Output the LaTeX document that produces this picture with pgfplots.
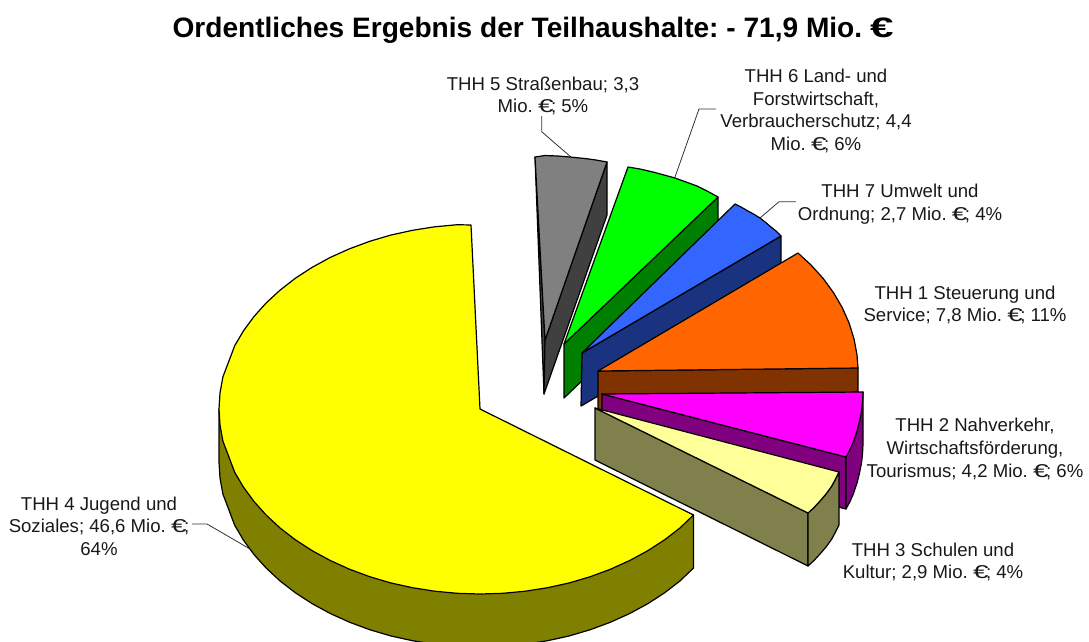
\documentclass[border=0pt]{standalone}
\usepackage{fontspec}
\setmainfont{Liberation Sans}
\usepackage{graphicx}
\usepackage{pgfplots}
\pgfplotsset{compat=1.18}

\definecolor{cGray}{HTML}{808080}\definecolor{dGray}{HTML}{404040}
\definecolor{cGreen}{HTML}{00FF00}\definecolor{dGreen}{HTML}{008000}
\definecolor{cBlue}{HTML}{3366FF}\definecolor{dBlue}{HTML}{1A3380}
\definecolor{cOrange}{HTML}{FF6600}\definecolor{dOrange}{HTML}{803300}
\definecolor{cMagenta}{HTML}{FF00FF}\definecolor{dMagenta}{HTML}{800080}
\definecolor{cPale}{HTML}{FFFF99}\definecolor{dPale}{HTML}{80804D}
\definecolor{cYellow}{HTML}{FFFF00}\definecolor{dYellow}{HTML}{808000}

\pgfplotsset{
  face/.style={fill=#1, draw=black, line width=1.2pt, line join=round, no markers},
  leader/.style={draw=black!80, line width=0.8pt, no markers},
}
\tikzset{lab/.style={align=center, font=\fontsize{18.6}{22.6}\selectfont, text=black!90}}
\newcommand{\eu}{\scalebox{1.5}[1]{€}\kern-2.5pt}

\begin{document}
\frenchspacing
\begin{tikzpicture}
\begin{axis}[
  scale only axis,
  width=1089pt, height=641pt,
  xmin=0, xmax=1089, ymin=0, ymax=641,
  y dir=reverse,
  enlargelimits=false,
  axis line style={draw=none},
  ticks=none,
  clip=true,
]
% leader lines
\addplot[leader] coordinates {(541.7,116) (541.7,131.7) (571.7,157.7)};
\addplot[leader] coordinates {(716,109) (699,109) (675,177)};
\addplot[leader] coordinates {(796,201.7) (779,201.7) (760,218)};
\addplot[leader] coordinates {(192,524) (207,524) (250,549)};

% THH 5 grey
\addplot[face=dGray] coordinates {(535,157) (545,340) (544,394)} -- cycle;
\addplot[face=dGray] coordinates {(607,162) (607,215) (544,394) (545,340)} -- cycle;
\addplot[face=cGray] coordinates {(535,157) (545,155.5) (558,156) (570,157) (585,158.5) (596,160) (607,162) (545,340)} -- cycle;

% THH 6 green
\addplot[face=dGreen] coordinates {(718,197) (718,251) (564,398) (564,344)} -- cycle;
\addplot[face=cGreen] coordinates {(628,167) (640,169) (653,172) (664,175) (675,178) (686,182) (697,186) (708,191.5) (718,197) (564,344)} -- cycle;

% THH 7 blue
\addplot[face=dBlue] coordinates {(781,236) (781,290) (581,406) (582,353)} -- cycle;
\addplot[face=cBlue] coordinates {(735,204) (741,207) (747,210.5) (753.5,214) (760,218) (765.5,222.3) (771,227) (776,231) (781,236) (582,353)} -- cycle;

% THH 1 orange
\addplot[face=dOrange] coordinates {(598,371) (858,368) (858,392) (858,420) (598,425)} -- cycle;
\addplot[face=cOrange] coordinates {(798,253) (811,265) (823.2,278.5) (833.6,292.8) (842.3,307.7) (849.1,323.1) (854,338.8) (857,354.9) (858,368) (598,371)} -- cycle;

% THH 2 magenta
\addplot[face=dMagenta] coordinates {(602,394) (846,457) (846,509) (602,446)} -- cycle;
\addplot[face=dMagenta] coordinates {(863,392) (863,444) (862.5,454) (861.5,463) (859.5,473) (857,483) (853.5,493.5) (850,501.5) (846,509) (846,457) (850,449.5) (853.5,441.5) (857,431) (859.5,421) (861.5,411) (862.5,402)} -- cycle;
\addplot[face=cMagenta] coordinates {(602,394) (863,392) (862.5,402) (861.5,411) (859.5,421) (857,431) (853.5,441.5) (850,449.5) (846,457)} -- cycle;

% THH 3 pale yellow
\addplot[face=dPale] coordinates {(595,408) (808,513) (808,566) (595,460)} -- cycle;
\addplot[face=dPale] coordinates {(808,513) (814,507.5) (820,501) (826,494) (831.6,486.3) (835.5,479) (839,472) (839,525) (835.5,532) (831.6,539.3) (826,547) (820,554) (814,560.5) (808,566)} -- cycle;
\addplot[face=cPale] coordinates {(595,408) (839,472) (835.5,479) (831.6,486.3) (826,494) (820,501) (814,507.5) (808,513)} -- cycle;

% THH 4 yellow
\addplot[face=dYellow] coordinates {
  (219,409) (219,462) (220,478.1) (222.9,494.1) (228.9,509.9) (234.7,525.3) (243.5,540.2) (254,554.5)
  (266.2,568.1) (280.1,581) (295.4,592.8) (312.2,603.7) (330.3,613.5) (349.5,622.2) (369.7,629.7)
  (390.7,635.9) (412.5,640.7) (434.7,644.2) (457.2,646.3) (480,647) (502.8,646.3) (525.3,644.2)
  (547.6,640.7) (569.3,635.9) (590.3,629.7) (610.5,622.2) (629.7,613.5) (647.8,603.7) (664.6,592.8)
  (679.9,581) (693.5,568) (693.5,515)
} -- cycle;
\addplot[face=cYellow] coordinates {
  (471,225) (457.2,224.7) (434.7,226.8) (412.5,230.3) (390.7,235.1) (369.7,241.3) (349.5,248.8)
  (330.3,257.4) (312.2,267.3) (295.4,278.2) (280.1,290.1) (266.2,302.9) (254,316.5) (243.5,330.8)
  (234.7,345.7) (228.9,361.1) (222.9,376.9) (220,392.9) (219,409) (220,425.1) (222.9,441.1)
  (228.9,456.9) (234.7,472.3) (243.5,487.2) (254,501.5) (266.2,515.1) (280.1,528) (295.4,539.8)
  (312.2,550.7) (330.3,560.5) (349.5,569.2) (369.7,576.7) (390.7,582.9) (412.5,587.7) (434.7,591.2)
  (457.2,593.3) (480,594) (502.8,593.3) (525.3,591.2) (547.6,587.7) (569.3,582.9) (590.3,576.7)
  (610.5,569.2) (629.7,560.5) (647.8,550.7) (664.6,539.8) (679.9,528) (693.5,515) (480,409)
} -- cycle;

% labels
\node[font=\fontsize{28.1}{32}\selectfont\bfseries, text=black] at (axis cs:533,30.5) {Ordentliches Ergebnis der Teilhaushalte: - 71,9 Mio. \scalebox{1.5}[1]{€}};
\node[lab] at (axis cs:543,96) {THH 5 Straßenbau; 3,3\\Mio. \eu; 5\%};
\node[lab] at (axis cs:816,111) {THH 6 Land- und\\Forstwirtschaft,\\Verbraucherschutz; 4,4\\Mio. \eu; 6\%};
\node[lab] at (axis cs:900,204) {THH 7 Umwelt und\\Ordnung; 2,7 Mio. \eu; 4\%};
\node[lab] at (axis cs:965,305) {THH 1 Steuerung und\\Service; 7,8 Mio. \eu; 11\%};
\node[lab] at (axis cs:975,449) {THH 2 Nahverkehr,\\Wirtschaftsförderung,\\Tourismus; 4,2 Mio. \eu; 6\%};
\node[lab] at (axis cs:933,562) {THH 3 Schulen und\\Kultur; 2,9 Mio. \eu; 4\%};
\node[lab] at (axis cs:99,526) {THH 4 Jugend und\\Soziales; 46,6 Mio. \eu;\\64\%};
\end{axis}
\end{tikzpicture}
\end{document}
